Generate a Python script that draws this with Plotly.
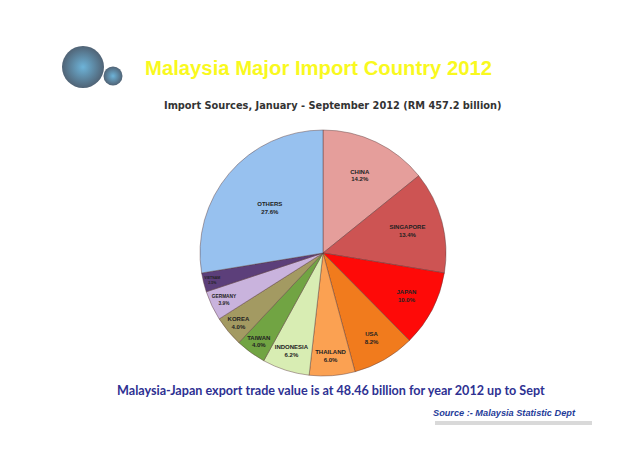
import plotly.graph_objects as go

# import share by country, Jan-Sep 2012 (%)
countries = ['CHINA', 'SINGAPORE', 'JAPAN', 'USA', 'THAILAND', 'INDONESIA',
             'TAIWAN', 'KOREA', 'GERMANY', 'VIETNAM', 'OTHERS']
shares = [14.2, 13.4, 10.0, 8.2, 6.0, 6.2, 4.0, 4.0, 3.9, 2.5, 27.6]
slice_colors = ['#E59E9B', '#CD5453', '#FE0A08', '#F17B1D', '#FBA152', '#D8EDB3',
                '#71A443', '#A39A62', '#C9B3DD', '#5C3F7A', '#97C1EF']

W, H = 638, 451

fig = go.Figure()

fig.add_trace(go.Pie(
    labels=countries,
    values=shares,
    text=[f"<b>{c}<br>{v:.1f}%</b>" for c, v in zip(countries, shares)],
    textinfo='text',
    textposition='inside',
    insidetextorientation='horizontal',
    insidetextfont=dict(family='Liberation Sans', size=6, color='#222222'),
    marker=dict(colors=slice_colors, line=dict(color='rgba(90,60,60,0.45)', width=1)),
    sort=False,
    direction='clockwise',
    rotation=0,
    hoverinfo='label+percent',
    domain=dict(x=[(323 - 123) / W, (323 + 123) / W],
                y=[(H - 253 - 123) / H, (H - 253 + 123) / H]),
    showlegend=False,
))

# logo: two glossy spheres (radial gradient: centre colour -> edge colour)
fig.add_trace(go.Scatter(
    x=[83, 113], y=[67, 76], mode='markers',
    marker=dict(size=[42, 19], color='#05203a',
                gradient=dict(type='radial', color='#2f93c8'),
                line=dict(width=0)),
    hoverinfo='skip', showlegend=False,
))

fig.update_xaxes(range=[0, W], visible=False, fixedrange=True)
fig.update_yaxes(range=[H, 0], visible=False, fixedrange=True)

fig.add_annotation(x=143, y=68, xref='x', yref='y', showarrow=False, xanchor='left',
                   text='<b>Malaysia Major Import Country 2012</b>',
                   font=dict(family='Liberation Sans', size=20.3, color='#F9F91E'))
fig.add_annotation(x=333, y=105, xref='x', yref='y', showarrow=False,
                   text='<b>Import Sources, January - September 2012 (RM 457.2 billion)</b>',
                   font=dict(family='DejaVu Sans', size=9.8, color='#333333'))
fig.add_annotation(x=115, y=390, xref='x', yref='y', showarrow=False, xanchor='left',
                   text='<b>Malaysia-Japan export trade value is at 48.46 billion for year 2012 up to Sept</b>',
                   font=dict(family='Lato', size=12.6, color='#2E3192'))
fig.add_annotation(x=578, y=413, xref='x', yref='y', showarrow=False, xanchor='right',
                   text='<b><i>Source :- Malaysia Statistic Dept</i></b>',
                   font=dict(family='Liberation Sans', size=9.2, color='#1F3C99'))

fig.add_shape(type='rect', xref='x', yref='y', x0=435, x1=592, y0=421, y1=425,
              fillcolor='#D9D9D9', line=dict(width=0))

fig.update_layout(
    width=W, height=H,
    margin=dict(l=0, r=0, t=0, b=0),
    paper_bgcolor='white',
    plot_bgcolor='rgba(0,0,0,0)',
    xaxis=dict(domain=[0, 1]),
    yaxis=dict(domain=[0, 1]),
)

fig.write_html("out.html", config={'displayModeBar': False},
               post_script="document.body.style.margin='0';")
